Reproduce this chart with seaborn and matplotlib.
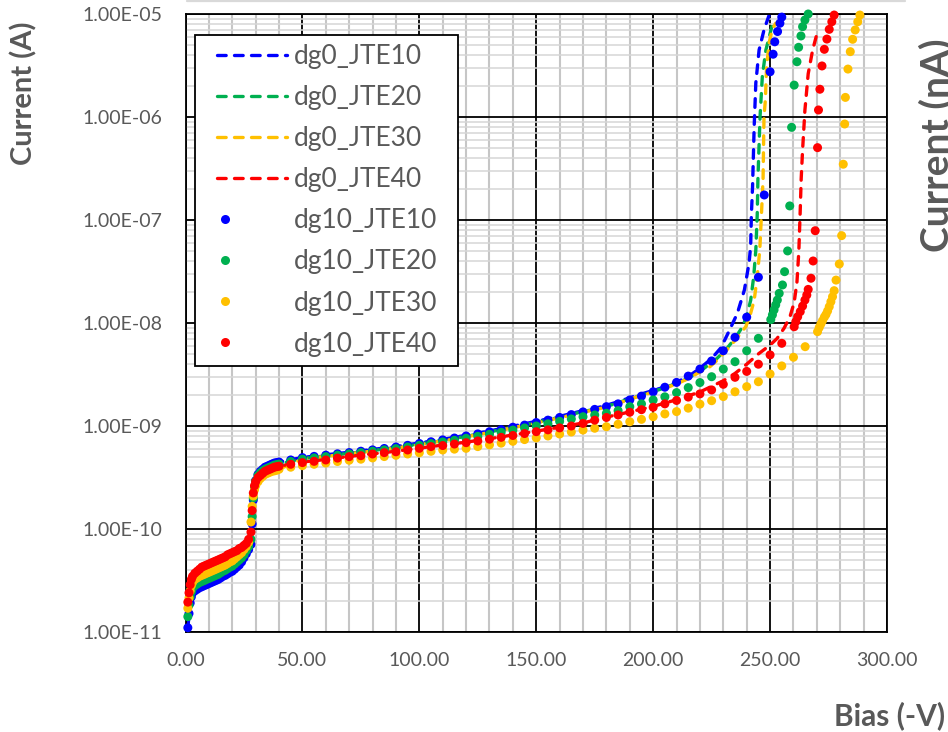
import matplotlib
matplotlib.use("Agg")
import matplotlib.pyplot as plt
import pandas as pd
import seaborn as sns
from matplotlib.lines import Line2D
from matplotlib.legend_handler import HandlerLine2D
from matplotlib.ticker import (FuncFormatter, LogLocator, MultipleLocator,
                               NullFormatter)

# ---------------------------------------------------------------- data
# reverse bias sweep shared by the dg10 devices (V)
bias_sweep = [1, 1.5, 2, 2.5, 3, 4, 5, 6, 7, 8, 9, 10, 11, 12, 13, 14, 15, 16,
              17, 18, 19, 20, 21, 22, 23, 24, 25, 26, 27, 28, 28.5, 29, 29.5,
              30, 31, 32, 33, 34, 35, 36, 37, 38, 39, 40, 45, 50, 55, 60, 65,
              70, 75, 80, 85, 90, 95, 100, 105, 110, 115, 120, 125, 130, 135,
              140, 145, 150, 155, 160, 165, 170, 175, 180, 185, 190, 195, 200,
              205, 210, 215, 220, 225, 230, 235, 240, 245]

# dg10 devices: current (A) on the shared sweep, then the breakdown points
dg10_jte10_current = [
    1.10e-11, 1.51e-11, 1.91e-11, 2.19e-11, 2.40e-11, 2.51e-11, 2.60e-11,
    2.69e-11, 2.75e-11, 2.82e-11, 2.88e-11, 2.95e-11, 3.02e-11, 3.09e-11,
    3.16e-11, 3.24e-11, 3.35e-11, 3.47e-11, 3.55e-11, 3.67e-11, 3.80e-11,
    3.89e-11, 4.07e-11, 4.27e-11, 4.47e-11, 4.79e-11, 5.25e-11, 5.75e-11,
    6.31e-11, 7.08e-11, 1.12e-10, 1.91e-10, 2.51e-10, 2.95e-10, 3.39e-10,
    3.63e-10, 3.80e-10, 3.98e-10, 4.07e-10, 4.17e-10, 4.27e-10, 4.37e-10,
    4.42e-10, 4.47e-10,
    4.68e-10, 4.93e-10, 5.07e-10, 5.21e-10, 5.37e-10, 5.52e-10, 5.69e-10,
    5.86e-10, 6.05e-10, 6.25e-10, 6.49e-10, 6.76e-10, 7.03e-10, 7.33e-10,
    7.64e-10, 8.00e-10, 8.38e-10, 8.79e-10, 9.23e-10, 9.73e-10, 1.02e-9,
    1.08e-9, 1.14e-9, 1.21e-9, 1.29e-9, 1.37e-9, 1.45e-9, 1.54e-9, 1.64e-9,
    1.79e-9, 1.95e-9, 2.15e-9, 2.38e-9, 2.65e-9, 3.05e-9, 3.57e-9, 4.28e-9,
    5.38e-9, 7.26e-9, 1.14e-8, 2.78e-8]
dg10_jte10_bd_bias = [247.5, 250.0, 251.3, 252.0, 253.2, 254.2, 255.0]
dg10_jte10_bd_current = [1.75e-7, 2.75e-6, 4.07e-6, 5.37e-6, 6.76e-6,
                         8.13e-6, 9.33e-6]

dg10_jte20_current = [
    1.41e-11, 1.82e-11, 2.19e-11, 2.45e-11, 2.66e-11, 2.82e-11, 2.92e-11,
    3.02e-11, 3.09e-11, 3.16e-11, 3.24e-11, 3.31e-11, 3.39e-11, 3.47e-11,
    3.55e-11, 3.63e-11, 3.76e-11, 3.89e-11, 3.98e-11, 4.12e-11, 4.27e-11,
    4.37e-11, 4.57e-11, 4.79e-11, 5.01e-11, 5.25e-11, 5.62e-11, 6.17e-11,
    6.76e-11, 7.94e-11, 1.32e-10, 2.00e-10, 2.51e-10, 2.92e-10, 3.31e-10,
    3.51e-10, 3.67e-10, 3.80e-10, 3.89e-10, 3.98e-10, 4.07e-10, 4.17e-10,
    4.22e-10, 4.27e-10,
    4.52e-10, 4.76e-10, 4.90e-10, 5.04e-10, 5.21e-10, 5.36e-10, 5.51e-10,
    5.69e-10, 5.86e-10, 6.03e-10, 6.25e-10, 6.49e-10, 6.75e-10, 7.00e-10,
    7.26e-10, 7.59e-10, 7.93e-10, 8.30e-10, 8.69e-10, 9.12e-10, 9.57e-10,
    1.00e-9, 1.05e-9, 1.11e-9, 1.17e-9, 1.23e-9, 1.28e-9, 1.33e-9, 1.41e-9,
    1.54e-9, 1.64e-9, 1.79e-9, 1.92e-9, 2.11e-9, 2.36e-9, 2.64e-9, 3.01e-9,
    3.57e-9, 4.21e-9, 5.38e-9, 7.10e-9]
dg10_jte20_bd_bias = [250.3, 251.0, 251.7, 252.4, 253.1, 253.9, 255.3, 256.2,
                      257.5, 258.4, 259.2, 260.3, 261.5, 262.2, 263.2, 263.9,
                      264.9, 266.3]
dg10_jte20_bd_current = [1.08e-8, 1.20e-8, 1.34e-8, 1.50e-8, 1.67e-8, 1.94e-8,
                         2.34e-8, 3.15e-8, 5.01e-8, 1.37e-7, 7.94e-7, 2.04e-6,
                         3.44e-6, 4.75e-6, 6.12e-6, 7.53e-6, 8.75e-6, 1.00e-5]

dg10_jte30_current = [
    1.70e-11, 2.14e-11, 2.51e-11, 2.82e-11, 3.02e-11, 3.24e-11, 3.35e-11,
    3.47e-11, 3.55e-11, 3.63e-11, 3.72e-11, 3.80e-11, 3.89e-11, 3.98e-11,
    4.07e-11, 4.17e-11, 4.27e-11, 4.37e-11, 4.47e-11, 4.62e-11, 4.79e-11,
    4.90e-11, 5.13e-11, 5.37e-11, 5.62e-11, 5.89e-11, 6.31e-11, 6.76e-11,
    7.41e-11, 1.17e-10, 1.66e-10, 2.09e-10, 2.40e-10, 2.63e-10, 2.88e-10,
    3.09e-10, 3.24e-10, 3.39e-10, 3.47e-10, 3.55e-10, 3.63e-10, 3.67e-10,
    3.72e-10, 3.80e-10,
    3.98e-10, 4.12e-10, 4.25e-10, 4.37e-10, 4.52e-10, 4.65e-10, 4.76e-10,
    4.90e-10, 5.05e-10, 5.19e-10, 5.35e-10, 5.50e-10, 5.68e-10, 5.85e-10,
    5.96e-10, 6.07e-10, 6.31e-10, 6.56e-10, 6.82e-10, 7.10e-10, 7.38e-10,
    7.67e-10, 8.00e-10, 8.36e-10, 8.75e-10, 9.14e-10, 9.51e-10, 9.84e-10,
    1.04e-9, 1.10e-9, 1.16e-9, 1.23e-9, 1.31e-9, 1.38e-9, 1.49e-9, 1.63e-9,
    1.76e-9, 1.93e-9, 2.15e-9, 2.41e-9, 2.69e-9]
dg10_jte30_bd_bias = [250, 255, 260, 265, 270.3, 271.0, 271.7, 272.4, 273.2,
                      273.9, 274.6, 275.3, 276.0, 276.7, 277.4, 278.2, 279.6,
                      280.6, 281.3, 281.9, 282.2, 283.3, 284.3, 285.3, 286.4,
                      287.5, 288.4]
dg10_jte30_bd_current = [3.20e-9, 3.83e-9, 4.65e-9, 5.89e-9, 8.24e-9, 9.02e-9,
                         9.77e-9, 1.05e-8, 1.14e-8, 1.21e-8, 1.31e-8, 1.44e-8,
                         1.61e-8, 1.80e-8, 2.06e-8, 2.61e-8, 3.74e-8, 7.05e-8,
                         3.48e-7, 8.55e-7, 1.55e-6, 2.92e-6, 4.31e-6, 5.68e-6,
                         7.00e-6, 8.41e-6, 9.77e-6]

dg10_jte40_current = [
    1.95e-11, 2.40e-11, 2.88e-11, 3.24e-11, 3.47e-11, 3.72e-11, 3.89e-11,
    4.07e-11, 4.27e-11, 4.37e-11, 4.47e-11, 4.57e-11, 4.68e-11, 4.79e-11,
    4.90e-11, 5.01e-11, 5.13e-11, 5.25e-11, 5.37e-11, 5.62e-11, 5.75e-11,
    5.89e-11, 6.03e-11, 6.17e-11, 6.46e-11, 6.61e-11, 6.92e-11, 7.24e-11,
    7.94e-11, 9.33e-11, 1.51e-10, 2.24e-10, 2.63e-10, 2.88e-10, 3.16e-10,
    3.31e-10, 3.47e-10, 3.63e-10, 3.72e-10, 3.80e-10, 3.89e-10, 3.98e-10,
    4.03e-10, 4.07e-10,
    4.25e-10, 4.41e-10, 4.54e-10, 4.68e-10, 4.88e-10, 5.04e-10, 5.15e-10,
    5.35e-10, 5.51e-10, 5.62e-10, 5.85e-10, 6.07e-10, 6.31e-10, 6.46e-10,
    6.68e-10, 6.89e-10, 7.16e-10, 7.45e-10, 7.76e-10, 8.09e-10, 8.45e-10,
    8.81e-10, 9.18e-10, 9.59e-10, 1.00e-9, 1.06e-9, 1.14e-9, 1.21e-9, 1.28e-9,
    1.36e-9, 1.44e-9, 1.52e-9, 1.64e-9, 1.77e-9, 1.91e-9, 2.05e-9, 2.24e-9,
    2.54e-9, 2.97e-9, 3.39e-9, 3.98e-9]
dg10_jte40_bd_bias = [250, 255, 260.3, 261.0, 261.8, 262.9, 263.9, 264.9,
                      265.7, 266.3, 267.5, 268.4, 269.3, 270.3, 270.7, 271.3,
                      272.2, 273.2, 274.3, 275.3, 276.4, 277.4]
dg10_jte40_bd_current = [4.90e-9, 6.35e-9, 9.20e-9, 1.03e-8, 1.15e-8, 1.29e-8,
                         1.46e-8, 1.67e-8, 1.87e-8, 2.12e-8, 2.72e-8, 4.00e-8,
                         7.87e-8, 5.04e-7, 1.17e-6, 1.86e-6, 3.13e-6, 4.54e-6,
                         5.71e-6, 7.10e-6, 8.41e-6, 9.77e-6]

# dg0 devices (drawn as dashed curves)
dg0_jte10_bias = [1, 2, 3, 5, 10, 15, 20, 25, 27, 28, 29, 30, 32, 35, 40, 50,
                  60, 70, 80, 90, 100, 110, 120, 130, 140, 150, 160, 170, 178,
                  185, 190, 196, 203, 210, 215, 220, 225, 229, 232, 236, 239,
                  241, 241.7, 242, 242.5, 243.2, 243.9, 245.3, 247.4, 249.6]
dg0_jte10_current = [
    1.10e-11, 1.91e-11, 2.40e-11, 2.60e-11, 2.95e-11, 3.35e-11, 3.89e-11,
    5.25e-11, 6.31e-11, 7.08e-11, 1.91e-10, 2.95e-10, 3.63e-10, 4.07e-10,
    4.47e-10, 4.95e-10, 5.25e-10, 5.56e-10, 5.92e-10, 6.31e-10, 6.84e-10,
    7.41e-10, 8.13e-10, 8.95e-10, 9.95e-10, 1.11e-9, 1.24e-9, 1.41e-9,
    1.54e-9, 1.72e-9, 1.88e-9, 2.08e-9, 2.32e-9, 2.66e-9, 3.02e-9, 3.63e-9,
    4.52e-9, 5.75e-9, 7.94e-9, 1.24e-8, 2.09e-8, 3.80e-8, 5.62e-8, 1.12e-7,
    2.09e-7, 8.13e-7, 2.14e-6, 4.47e-6, 7.00e-6, 9.77e-6]

dg0_jte20_bias = [1, 2, 3, 5, 10, 15, 20, 25, 27, 28, 29, 30, 32, 35, 40, 50,
                  60, 70, 80, 90, 100, 110, 120, 130, 140, 150, 160, 170, 178,
                  185, 190, 196, 203, 210, 215, 220, 223.5, 227, 231, 235,
                  238.2, 240, 241.7, 243, 243.9, 244.5, 244.8, 245.7, 246.7,
                  248.2, 250, 251]
dg0_jte20_current = [
    1.41e-11, 2.19e-11, 2.66e-11, 2.92e-11, 3.31e-11, 3.76e-11, 4.37e-11,
    5.62e-11, 6.76e-11, 7.94e-11, 2.00e-10, 2.92e-10, 3.51e-10, 3.89e-10,
    4.27e-10, 4.84e-10, 5.13e-10, 5.43e-10, 5.78e-10, 6.17e-10, 6.68e-10,
    7.24e-10, 7.94e-10, 8.75e-10, 9.73e-10, 1.08e-9, 1.22e-9, 1.38e-9,
    1.50e-9, 1.68e-9, 1.84e-9, 2.03e-9, 2.27e-9, 2.59e-9, 2.92e-9, 3.39e-9,
    3.89e-9, 4.47e-9, 5.47e-9, 7.08e-9, 9.20e-9, 1.17e-8, 1.66e-8, 2.82e-8,
    5.13e-8, 1.12e-7, 2.51e-7, 1.00e-6, 2.51e-6, 4.47e-6, 6.46e-6, 7.94e-6]

dg0_jte30_bias = [1, 2, 3, 5, 10, 15, 20, 25, 27, 28, 29, 30, 32, 35, 40, 50,
                  60, 70, 80, 90, 100, 110, 120, 130, 140, 150, 160, 170, 178,
                  185, 190, 196, 203, 210, 215, 220, 224, 227, 231.5, 235,
                  239.6, 241.5, 243.2, 244.5, 245.6, 246.3, 247.0, 247.4,
                  248.0, 248.5, 249.6, 250.9, 252.4]
dg0_jte30_current = [
    1.70e-11, 2.51e-11, 3.02e-11, 3.35e-11, 3.80e-11, 4.27e-11, 4.90e-11,
    6.31e-11, 7.41e-11, 1.17e-10, 2.09e-10, 2.63e-10, 3.09e-10, 3.47e-10,
    3.80e-10, 4.79e-10, 5.07e-10, 5.37e-10, 5.71e-10, 6.10e-10, 6.61e-10,
    7.16e-10, 7.85e-10, 8.65e-10, 9.62e-10, 1.07e-9, 1.20e-9, 1.36e-9,
    1.49e-9, 1.66e-9, 1.82e-9, 2.01e-9, 2.24e-9, 2.56e-9, 2.88e-9, 3.35e-9,
    3.72e-9, 4.27e-9, 5.47e-9, 6.76e-9, 9.20e-9, 1.20e-8, 1.66e-8, 2.82e-8,
    5.13e-8, 1.12e-7, 2.51e-7, 1.00e-6, 1.48e-6, 3.09e-6, 5.25e-6, 7.08e-6,
    8.13e-6]

dg0_jte40_bias = [1, 2, 3, 5, 10, 15, 20, 25, 27, 28, 29, 30, 32, 35, 40, 50,
                  60, 70, 80, 90, 100, 110, 120, 130, 140, 150, 160, 170, 180,
                  190, 200, 210, 220, 230, 235, 240, 245, 250, 253, 256, 258.5,
                  260.3, 261.5, 262.3, 262.9, 263.3, 263.9, 264.9, 266.3,
                  268.2, 270.3]
dg0_jte40_current = [
    1.95e-11, 2.88e-11, 3.47e-11, 3.89e-11, 4.57e-11, 5.13e-11, 5.89e-11,
    6.92e-11, 7.94e-11, 9.33e-11, 2.24e-10, 2.88e-10, 3.31e-10, 3.72e-10,
    4.07e-10, 4.47e-10, 4.73e-10, 5.07e-10, 5.37e-10, 5.69e-10, 6.10e-10,
    6.53e-10, 6.97e-10, 7.53e-10, 8.18e-10, 8.91e-10, 9.73e-10, 1.07e-9,
    1.22e-9, 1.37e-9, 1.55e-9, 1.80e-9, 2.14e-9, 2.75e-9, 3.24e-9, 3.98e-9,
    5.01e-9, 6.10e-9, 7.08e-9, 8.91e-9, 1.15e-8, 1.58e-8, 2.51e-8, 5.01e-8,
    1.26e-7, 2.51e-7, 4.79e-7, 1.17e-6, 2.63e-6, 4.47e-6, 6.76e-6]

line_names = ["dg0_JTE10", "dg0_JTE20", "dg0_JTE30", "dg0_JTE40"]
dot_names = ["dg10_JTE10", "dg10_JTE20", "dg10_JTE30", "dg10_JTE40"]
jte_colors = ["#0000FF", "#00B050", "#FFC000", "#FF0000"]

y_ticks = [1e-11, 1e-10, 1e-9, 1e-8, 1e-7, 1e-6, 1e-5]

# ---------------------------------------------------------------- tables
dot_table = pd.concat([
    pd.DataFrame({"bias": bias_sweep + bd_b, "current": cur + bd_c,
                  "device": name})
    for name, cur, bd_b, bd_c in [
        (dot_names[0], dg10_jte10_current, dg10_jte10_bd_bias, dg10_jte10_bd_current),
        (dot_names[1], dg10_jte20_current, dg10_jte20_bd_bias, dg10_jte20_bd_current),
        (dot_names[2], dg10_jte30_current, dg10_jte30_bd_bias, dg10_jte30_bd_current),
        (dot_names[3], dg10_jte40_current, dg10_jte40_bd_bias, dg10_jte40_bd_current),
    ]], ignore_index=True)

line_table = pd.concat([
    pd.DataFrame({"bias": b, "current": c, "device": name})
    for name, b, c in [
        (line_names[0], dg0_jte10_bias, dg0_jte10_current),
        (line_names[1], dg0_jte20_bias, dg0_jte20_current),
        (line_names[2], dg0_jte30_bias, dg0_jte30_current),
        (line_names[3], dg0_jte40_bias, dg0_jte40_current),
    ]], ignore_index=True)

# ---------------------------------------------------------------- style
sns.set_style("white")
plt.rcParams["font.family"] = ["Lato", "DejaVu Sans"]
plt.rcParams["lines.dash_capstyle"] = "round"
TEXT_GREY = "#595959"
DASH = (2.6, 2.5)

W, H = 948, 732
fig = plt.figure(figsize=(W / 100, H / 100), dpi=100)
fig.patch.set_facecolor("white")
ax = fig.add_axes([185.5 / W, 1 - 632 / H, (887 - 185.5) / W, (632 - 14) / H])

sns.lineplot(data=line_table, x="bias", y="current", hue="device",
             hue_order=line_names, palette=dict(zip(line_names, jte_colors)),
             sort=False, estimator=None, linewidth=2.4, legend=False,
             ax=ax, zorder=2)
for ln in ax.lines:
    ln.set_dashes(DASH)
    ln.set_dash_capstyle("round")

sns.scatterplot(data=dot_table, x="bias", y="current", hue="device",
                hue_order=dot_names, palette=dict(zip(dot_names, jte_colors)),
                s=42, linewidth=0, legend=False, ax=ax, zorder=3,
                clip_on=False)

ax.set_yscale("log")
ax.set_xlim(0, 300)
ax.set_ylim(1e-11, 1e-5)
ax.set_xlabel("")
ax.set_ylabel("")

ax.xaxis.set_major_locator(MultipleLocator(50))
ax.xaxis.set_minor_locator(MultipleLocator(10))
ax.yaxis.set_minor_locator(LogLocator(base=10, subs=[2, 3, 4, 5, 6, 7, 8, 9],
                                      numticks=100))
ax.yaxis.set_minor_formatter(NullFormatter())
ax.set_yticks(y_ticks)
ax.xaxis.set_major_formatter(FuncFormatter(lambda v, _: f"{v:.2f}"))
ax.yaxis.set_major_formatter(FuncFormatter(lambda v, _: f"{v:.2E}"))

ax.grid(which="minor", axis="x", color="#c6c6c6", linewidth=1.5)
ax.grid(which="minor", axis="y", color="#d6d6d6", linewidth=1.1)
ax.grid(which="major", color="black", linewidth=1.3)
ax.set_axisbelow(True)

ax.tick_params(which="major", direction="out", length=5.5, width=1.3,
               color="black", labelsize=14, labelcolor=TEXT_GREY)
ax.tick_params(axis="y", which="major", pad=11)
ax.tick_params(axis="x", which="major", pad=9)
ax.tick_params(which="minor", length=0)
for sp in ax.spines.values():
    sp.set_visible(True)
    sp.set_color("black")
    sp.set_linewidth(1.3)


# ---------------------------------------------------------------- legend
class LeadHandler(HandlerLine2D):
    """Legend key with a leading gap; dot keys sit near the left end."""

    def __init__(self, lead, dot_pos, **kw):
        super().__init__(**kw)
        self.lead = lead
        self.dot_pos = dot_pos

    def create_artists(self, legend, orig_handle, xdescent, ydescent,
                       width, height, fontsize, trans):
        y = (height - ydescent) / 2
        x0 = -xdescent + self.lead * fontsize
        x1 = -xdescent + width
        if orig_handle.get_linestyle() in ("None", "", " "):
            art = Line2D([x0 + self.dot_pos * fontsize], [y])
        else:
            art = Line2D([x0, x1], [y, y])
        self.update_prop(art, orig_handle, legend)
        art.set_transform(trans)
        return [art]


handles = [Line2D([], [], color=c, linewidth=2.4, linestyle=(0, DASH),
                  dash_capstyle="round") for c in jte_colors]
handles += [Line2D([], [], color=c, marker="o", markersize=6.5,
                   markeredgewidth=0, linestyle="None") for c in jte_colors]
leg = ax.legend(handles, line_names + dot_names,
                handler_map={Line2D: LeadHandler(lead=0.49, dot_pos=0.3)},
                loc="upper left", mode="expand",
                bbox_to_anchor=(195 / W, 1 - 362 / H, (458 - 195) / W,
                                (362 - 35) / H),
                bbox_transform=fig.transFigure, borderaxespad=0,
                borderpad=0.34, handlelength=3.14, handletextpad=0.27,
                labelspacing=0.61, fontsize=19, labelcolor=TEXT_GREY,
                frameon=True, fancybox=False, framealpha=1)
leg.get_frame().set_edgecolor("black")
leg.get_frame().set_linewidth(1.3)
leg.set_zorder(5)

# ---------------------------------------------------------------- labels
fig.text(24 / W, 1 - 93 / H, "Current (A)", rotation=90, ha="center",
         va="center", fontsize=21, fontweight="bold", color=TEXT_GREY)
fig.text(919 / W, 1 - 145 / H, "Current (nA)", rotation=90, ha="left",
         va="center", fontsize=28, fontweight="bold", color=TEXT_GREY)
fig.text(889.5 / W, 1 - 716 / H, "Bias (-V)", ha="center", va="center",
         fontsize=21.5, fontweight="bold", color=TEXT_GREY)
fig.add_artist(Line2D([187 / W, 905 / W], [1 - 1 / H, 1 - 1 / H],
                      transform=fig.transFigure, color="#d9d9d9",
                      linewidth=1.6))

fig.savefig("out.png", dpi=100)
